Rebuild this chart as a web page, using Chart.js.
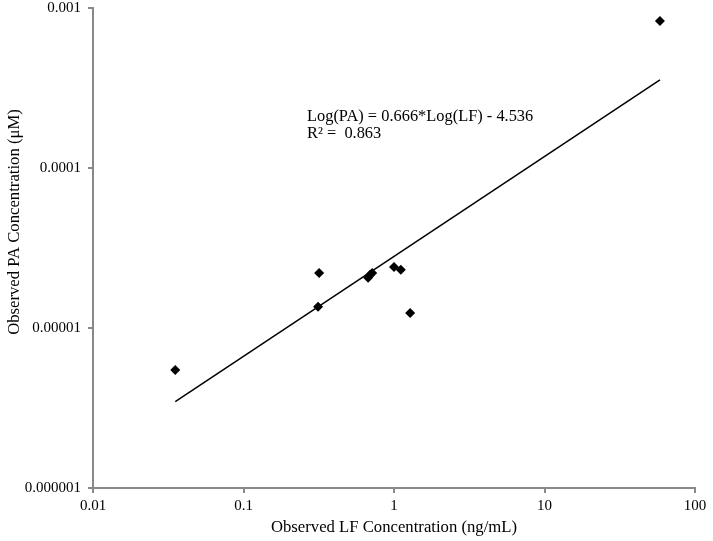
<!DOCTYPE html>
<html>
<head>
<meta charset="utf-8">
<script src="https://cdn.jsdelivr.net/npm/chart.js@4/dist/chart.umd.min.js"></script>
<style>
  html, body { margin: 0; padding: 0; background: #fff; }
  #wrap { width: 713px; height: 541px; position: relative; }
</style>
</head>
<body>
<div id="wrap"><canvas id="chart"></canvas></div>
<script>
// observed concentrations
const lfObserved = [0.0352, 0.318, 0.313, 0.673, 0.716, 0.694, 1.00, 1.11, 1.28, 58.5];
const paObserved = [5.46e-6, 2.21e-5, 1.36e-5, 2.06e-5, 2.21e-5, 2.15e-5, 2.41e-5, 2.31e-5, 1.24e-5, 8.3e-4];

// trend line end points
const fitLf = [0.0352, 58.5];
const fitPa = [3.46e-6, 3.55e-4];

const xTicks = [0.01, 0.1, 1, 10, 100];
const xTickLabels = ["0.01", "0.1", "1", "10", "100"];
const yTicks = [1e-6, 1e-5, 1e-4, 1e-3];
const yTickLabels = ["0.000001", "0.00001", "0.0001", "0.001"];

const xTitle = "Observed LF Concentration (ng/mL)";
const yTitle = "Observed PA Concentration (\u03bcM)";
const fitText = ["Log(PA) = 0.666*Log(LF) - 4.536", "R\u00b2 =  0.863"];

const serif = '"Liberation Serif", "Times New Roman", serif';
const axisGray = "#898989";

const toPoints = (xs, ys) => xs.map((x, i) => ({ x, y: ys[i] }));

const textPlugin = {
  id: "textPlugin",
  afterDraw(chart) {
    const { ctx, chartArea } = chart;
    ctx.save();
    ctx.fillStyle = "#000";

    // equation box
    ctx.font = `16.4px ${serif}`;
    ctx.textAlign = "left";
    ctx.textBaseline = "alphabetic";
    ctx.fillText(fitText[0], 307, 121);
    ctx.fillText(fitText[1], 307, 138);

    // axis titles
    ctx.font = `16.7px ${serif}`;
    ctx.textAlign = "center";
    ctx.textBaseline = "middle";
    ctx.fillText(xTitle, (chartArea.left + chartArea.right) / 2, 528);
    ctx.translate(15, 222);
    ctx.rotate(-Math.PI / 2);
    ctx.fillText(yTitle, 0, 0);
    ctx.restore();
  },
};

new Chart(document.getElementById("chart"), {
  type: "scatter",
  data: {
    datasets: [
      {
        label: "Observed",
        data: toPoints(lfObserved, paObserved),
        pointStyle: "rectRot",
        pointRadius: 5,
        pointHoverRadius: 5,
        backgroundColor: "#000",
        borderColor: "#000",
        borderWidth: 0,
        showLine: false,
      },
      {
        label: "Fit",
        data: toPoints(fitLf, fitPa),
        showLine: true,
        pointRadius: 0,
        borderColor: "#000",
        borderWidth: 1.5,
        fill: false,
      },
    ],
  },
  options: {
    responsive: true,
    maintainAspectRatio: false,
    animation: false,
    layout: { padding: { left: 0, right: 18, top: 8, bottom: 0 } },
    plugins: {
      legend: { display: false },
      tooltip: { enabled: false },
    },
    scales: {
      x: {
        type: "logarithmic",
        position: "bottom",
        min: 0.01,
        max: 100,
        afterBuildTicks(scale) {
          scale.ticks = xTicks.map((v) => ({ value: v, major: true }));
        },
        afterFit(scale) {
          scale.height = 53;
          scale.paddingLeft = 0;
          scale.paddingRight = 0;
        },
        ticks: {
          autoSkip: false,
          maxRotation: 0,
          color: "#000",
          padding: 4,
          font: { family: serif, size: 15 },
          callback: (v, i) => xTickLabels[i],
        },
        grid: { drawOnChartArea: false, color: axisGray, tickLength: 5, lineWidth: 2 },
        border: { display: true, color: axisGray, width: 2 },
      },
      y: {
        type: "logarithmic",
        position: "left",
        min: 1e-6,
        max: 1e-3,
        afterBuildTicks(scale) {
          scale.ticks = yTicks.map((v) => ({ value: v, major: true }));
        },
        afterFit(scale) {
          scale.width = 93;
          scale.paddingTop = 0;
          scale.paddingBottom = 0;
        },
        ticks: {
          autoSkip: false,
          color: "#000",
          padding: 7,
          font: { family: serif, size: 15 },
          callback: (v, i) => yTickLabels[i],
        },
        grid: { drawOnChartArea: false, color: axisGray, tickLength: 5, lineWidth: 2 },
        border: { display: true, color: axisGray, width: 2 },
      },
    },
  },
  plugins: [textPlugin],
});
</script>
</body>
</html>
